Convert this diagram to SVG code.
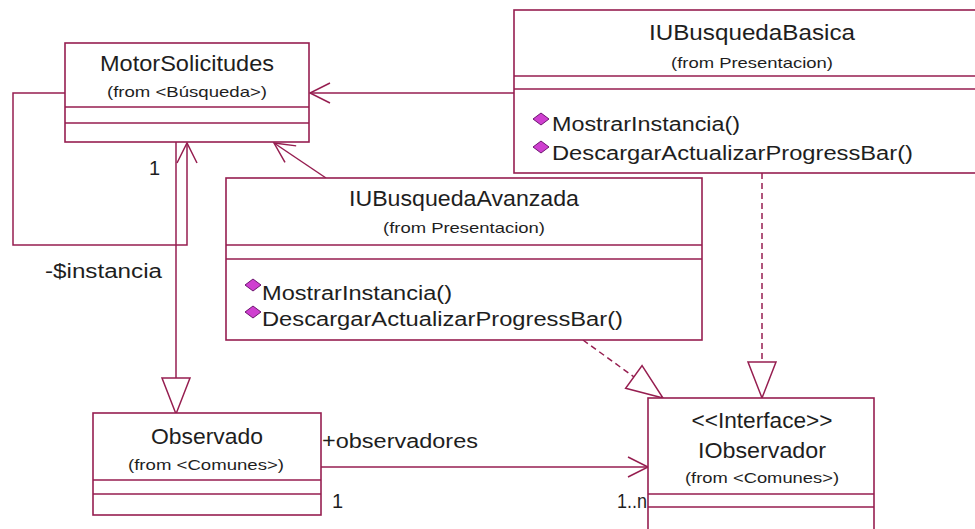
<svg xmlns="http://www.w3.org/2000/svg" width="975" height="529" viewBox="0 0 975 529">
  <style>
    .box { fill: #ffffff; stroke: #961e50; stroke-width: 1.6; }
    .div { stroke: #961e50; stroke-width: 1.6; fill: none; }
    .ln { stroke: #961e50; stroke-width: 1.5; fill: none; }
    .dash { stroke-dasharray: 6 4; }
    text { font-family: "Liberation Sans", Arial, sans-serif; fill: #1e1e1e; }
    .t { font-size: 22px; text-anchor: middle; }
    .s { font-size: 15px; text-anchor: middle; }
    .m { font-size: 20px; }
    .l { font-size: 20px; }
    .op { fill: #cf3fd0; stroke: #6e1670; stroke-width: 1; }
  </style>
  <defs>
    <marker id="open" markerUnits="userSpaceOnUse" markerWidth="26" markerHeight="26" viewBox="-23 -13 26 26" refX="0" refY="0" orient="auto">
      <path d="M-20,-10 L0,0 L-20,10" fill="none" stroke="#961e50" stroke-width="1.5"/>
    </marker>
    <marker id="tri" markerUnits="userSpaceOnUse" markerWidth="42" markerHeight="34" viewBox="-39 -17 42 34" refX="0" refY="0" orient="auto">
      <path d="M-36,-14 L0,0 L-36,14 Z" fill="#ffffff" stroke="#961e50" stroke-width="1.5" stroke-dasharray="none"/>
    </marker>
    <polygon id="opIcon" class="op" points="-8,0 0,-6 8,0 0,6"/>
  </defs>

  <rect width="975" height="529" fill="#ffffff"/>

  <!-- associations, generalization and realizations -->
  <g id="connectors">
    <polyline class="ln" points="65,93 13,93 13,245 187,245 187,143" marker-end="url(#open)"/>
    <line class="ln" x1="176" y1="142" x2="176" y2="414" marker-end="url(#tri)"/>
    <line class="ln" x1="514" y1="93" x2="310" y2="93" marker-end="url(#open)"/>
    <line class="ln" x1="326" y1="178" x2="274" y2="143" marker-end="url(#open)"/>
    <line class="ln dash" x1="762" y1="173" x2="762" y2="398" marker-end="url(#tri)"/>
    <line class="ln dash" x1="583" y1="340" x2="663" y2="398" marker-end="url(#tri)"/>
    <line class="ln" x1="321" y1="467" x2="648" y2="467" marker-end="url(#open)"/>
    <text class="l" x="149" y="175">1</text>
    <text class="l" x="45" y="278" textLength="117" lengthAdjust="spacingAndGlyphs">-$instancia</text>
    <text class="l" x="322" y="448" textLength="156" lengthAdjust="spacingAndGlyphs">+observadores</text>
    <text class="l" x="332" y="508">1</text>
    <text class="l" x="617" y="508" textLength="30" lengthAdjust="spacingAndGlyphs">1..n</text>
  </g>

  <g id="MotorSolicitudes">
    <rect class="box" x="65" y="43" width="244" height="99"/>
    <path class="div" d="M65,107 H309 M65,123 H309"/>
    <text class="t" x="187" y="71" textLength="174" lengthAdjust="spacingAndGlyphs">MotorSolicitudes</text>
    <text class="s" x="187" y="97" textLength="160" lengthAdjust="spacingAndGlyphs">(from &lt;Búsqueda&gt;)</text>
  </g>

  <g id="IUBusquedaBasica">
    <rect class="box" x="514" y="10" width="480" height="163"/>
    <path class="div" d="M514,76 H994 M514,89 H994"/>
    <text class="t" x="752" y="40" textLength="206" lengthAdjust="spacingAndGlyphs">IUBusquedaBasica</text>
    <text class="s" x="752" y="68" textLength="162" lengthAdjust="spacingAndGlyphs">(from Presentacion)</text>
    <use href="#opIcon" x="541" y="119"/>
    <text class="m" x="552" y="131" textLength="188" lengthAdjust="spacingAndGlyphs">MostrarInstancia()</text>
    <use href="#opIcon" x="541" y="147"/>
    <text class="m" x="552" y="160" textLength="361" lengthAdjust="spacingAndGlyphs">DescargarActualizarProgressBar()</text>
  </g>

  <g id="IUBusquedaAvanzada">
    <rect class="box" x="226" y="178" width="476" height="162"/>
    <path class="div" d="M226,245 H702 M226,259 H702"/>
    <text class="t" x="464" y="206" textLength="230" lengthAdjust="spacingAndGlyphs">IUBusquedaAvanzada</text>
    <text class="s" x="464" y="233" textLength="162" lengthAdjust="spacingAndGlyphs">(from Presentacion)</text>
    <use href="#opIcon" x="253" y="285"/>
    <text class="m" x="262" y="300" textLength="190" lengthAdjust="spacingAndGlyphs">MostrarInstancia()</text>
    <use href="#opIcon" x="253" y="312"/>
    <text class="m" x="262" y="326" textLength="361" lengthAdjust="spacingAndGlyphs">DescargarActualizarProgressBar()</text>
  </g>

  <g id="Observado">
    <rect class="box" x="93" y="413" width="228" height="102"/>
    <path class="div" d="M93,480 H321 M93,494 H321"/>
    <text class="t" x="207" y="444" textLength="112" lengthAdjust="spacingAndGlyphs">Observado</text>
    <text class="s" x="206" y="470" textLength="156" lengthAdjust="spacingAndGlyphs">(from &lt;Comunes&gt;)</text>
  </g>

  <g id="IObservador">
    <rect class="box" x="648" y="398" width="226" height="145"/>
    <path class="div" d="M648,494 H874 M648,507 H874"/>
    <text class="t" x="762" y="428" textLength="141" lengthAdjust="spacingAndGlyphs">&lt;&lt;Interface&gt;&gt;</text>
    <text class="t" x="762" y="458" textLength="128" lengthAdjust="spacingAndGlyphs">IObservador</text>
    <text class="s" x="762" y="483" textLength="154" lengthAdjust="spacingAndGlyphs">(from &lt;Comunes&gt;)</text>
  </g>
</svg>
